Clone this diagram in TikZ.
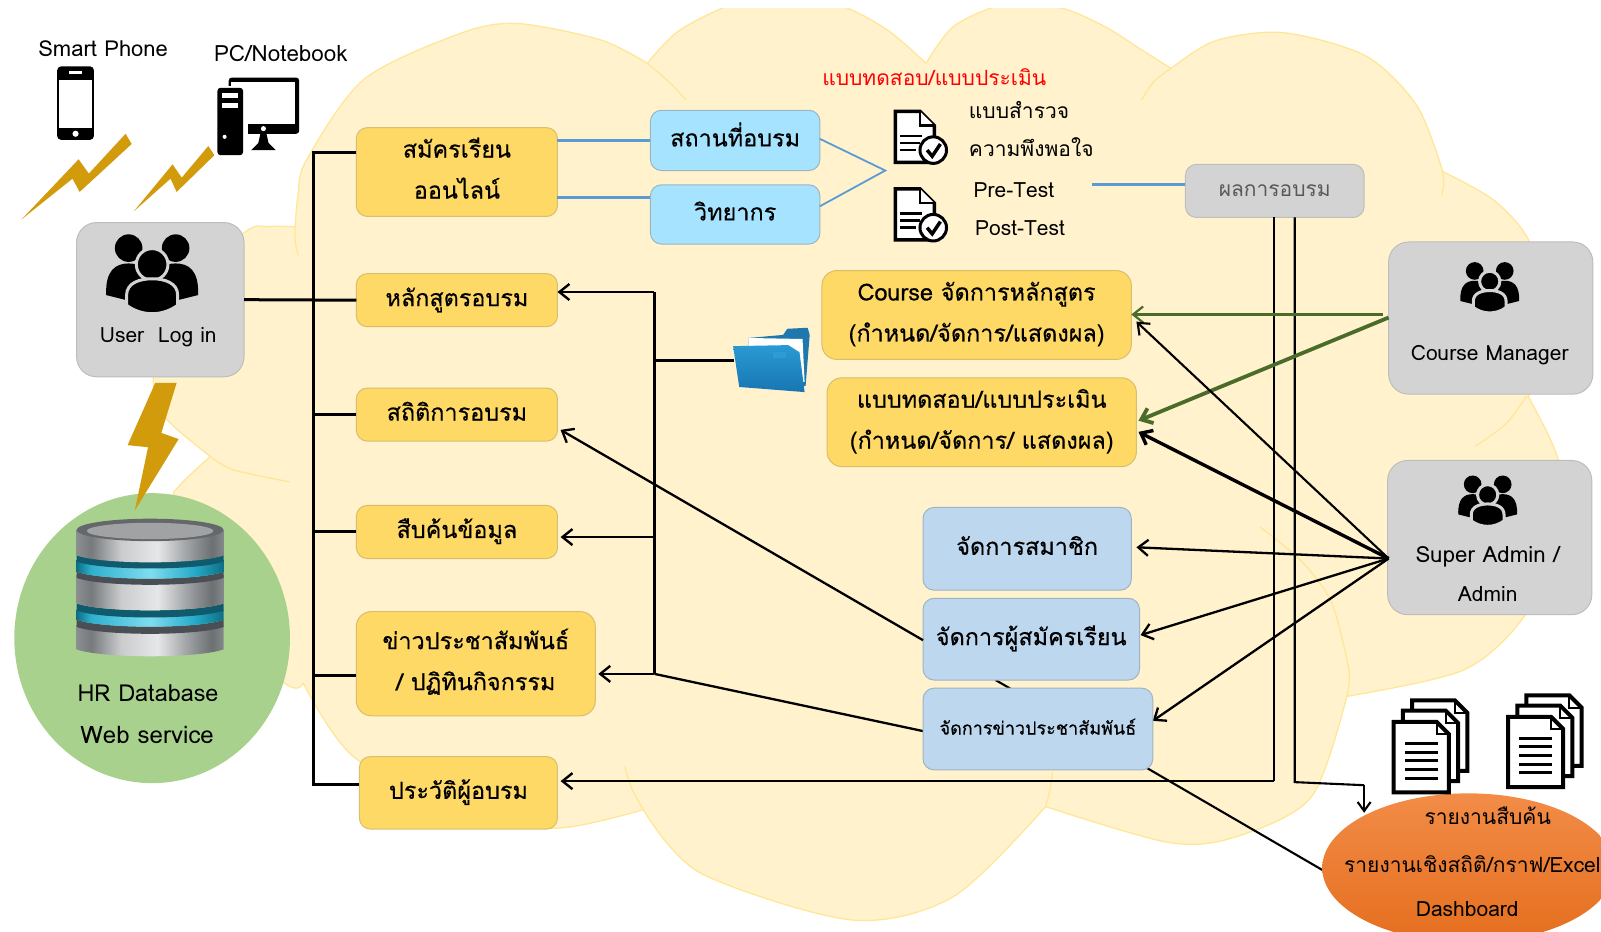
\documentclass[tikz,border=0pt]{standalone}
\usepackage{fontspec}
\setmainfont[Script=Thai]{Loma}
\newfontfamily\boxfont[Script=Thai,FakeBold=0.45]{Loma}
\usetikzlibrary{arrows.meta,calc,shapes.geometric}
\definecolor{cloudfill}{HTML}{FFF2CC}
\definecolor{cloudline}{HTML}{FFE699}
\definecolor{bolt}{HTML}{D29B0C}
\definecolor{yellowbox}{HTML}{FFD966}
\definecolor{yellowedge}{HTML}{D9BE6C}
\definecolor{skybox}{HTML}{A6E3FF}
\definecolor{steelbox}{HTML}{BDD7EE}
\definecolor{edgeblue}{HTML}{9DB4C4}
\definecolor{greybox}{HTML}{D3D3D3}
\definecolor{greyedge}{HTML}{BDBDBD}
\definecolor{bluelink}{HTML}{5B9BD5}
\definecolor{greenlink}{HTML}{4A6B2A}
\definecolor{dbgreen}{HTML}{A9D18E}
\definecolor{sa}{HTML}{8B8E91}\definecolor{sb}{HTML}{777A7D}\definecolor{sc}{HTML}{C9CBCC}
\definecolor{sd}{HTML}{E6E7E8}\definecolor{se}{HTML}{A0A3A5}\definecolor{sf}{HTML}{6D7073}\definecolor{sg}{HTML}{85888A}
\definecolor{ca}{HTML}{0E6F85}\definecolor{cb}{HTML}{2FB0CF}\definecolor{cc}{HTML}{7FDCF0}\definecolor{cd}{HTML}{27ABCB}\definecolor{ce}{HTML}{0E6F85}
\definecolor{tealdark}{HTML}{0F5A6C}
\definecolor{ringdark}{HTML}{4A4F55}
\definecolor{foldback}{HTML}{1E78AE}
\definecolor{foldtop}{HTML}{2A9AD4}
\definecolor{foldbot}{HTML}{1776B2}
\definecolor{orangetop}{HTML}{F28C47}
\definecolor{orangebot}{HTML}{E56E1E}
\pgfdeclarehorizontalshading{silverh}{100bp}{color(0bp)=(sa); color(25bp)=(sa); color(30bp)=(sb); color(40bp)=(sc); color(52.5bp)=(sd); color(62.5bp)=(se); color(71bp)=(sf); color(75bp)=(sg); color(100bp)=(sg)}
\pgfdeclarehorizontalshading{cyanh}{100bp}{color(0bp)=(ca); color(25bp)=(ca); color(30bp)=(cb); color(50bp)=(cc); color(65bp)=(cd); color(75bp)=(ce); color(100bp)=(ce)}
\newcommand{\bnode}[7]{\node[#1,minimum width={(#5-#3)*1.021pt},minimum height={(#6-#4)*1.021pt}] (#2) at ({(#3+#5)/2},{(#4+#6)/2}) {#7};}
\newcommand{\cylpart}[3]{\path[#3] (75,#1) .. controls (100,#1+9) and (194,#1+9) .. (219,#1) -- (219,#2) .. controls (194,#2+9) and (100,#2+9) .. (75,#2) -- cycle;}
\newcommand{\fx}{\rule[-12pt]{0pt}{36pt}}
\tikzset{
  base/.style={draw,rounded corners=11pt,inner sep=0pt,outer sep=0pt,align=center,text=black,line width=1pt},
  ybox/.style={base,fill=yellowbox,draw=yellowedge,font=\boxfont\fontsize{23.4}{41}\selectfont},
  sbox/.style={base,fill=skybox,draw=edgeblue,font=\boxfont\fontsize{23.4}{41}\selectfont},
  bbox/.style={base,fill=steelbox,draw=edgeblue,font=\boxfont\fontsize{23.4}{41}\selectfont},
  gbox/.style={base,fill=greybox,draw=greyedge,rounded corners=20pt},
  txt/.style={inner sep=0pt,outer sep=0pt,align=center,text=black,font=\fontsize{21}{37}\selectfont},
  bus/.style={line width=3pt,black},
  arr/.style={-{Straight Barb[length=10pt,width=16pt]}},
  thin link/.style={line width=2.1pt,black},
  blue thick/.style={line width=3pt,bluelink},
  cloudedge/.style={draw=cloudline,line width=1.3pt},
  people/.pic={
    \fill[black] (-23,-26) circle (13.5); \fill[black] (23,-26) circle (13.5);
    \fill[black] (-45,20) .. controls (-46,-4) and (-36,-11) .. (-23,-11) .. controls (-10,-11) and (-2,-4) .. (-2,20) -- (-25,25) -- cycle;
    \fill[black] (45,20) .. controls (46,-4) and (36,-11) .. (23,-11) .. controls (10,-11) and (2,-4) .. (2,20) -- (25,25) -- cycle;
    \path[fill=black,draw=greybox,line width=3pt] (0,-10) circle (15.5);
    \path[fill=black,draw=greybox,line width=3pt] (-25,30) -- (-25,20) .. controls (-25,8) and (-12,4) .. (0,4) .. controls (12,4) and (25,8) .. (25,20) -- (25,30) .. controls (10,41) and (-10,41) .. (-25,30) -- cycle;
  },
  docheck/.pic={
    \draw[black,line width=3.5pt,fill=white,line join=miter] (0,0) -- (24,0) -- (38,14) -- (38,50) -- (0,50) -- cycle;
    \draw[black,line width=2.5pt,fill=white] (24,0) -- (24,14) -- (38,14);
    \draw[black,line width=2.5pt] (4,24) -- (26,24) (4,31) -- (24,31) (4,38) -- (20,38);
    \draw[black,line width=3pt,fill=white] (37,38) circle (13);
    \draw[black,line width=3.5pt] (31,38) -- (36,44) -- (44,32);
  },
  pagesheet/.pic={
    \draw[black,line width=4pt,fill=white] (0,0) -- (42,0) -- (54,12) -- (54,69) -- (0,69) -- cycle;
    \draw[black,line width=2pt] (42,0) -- (42,12) -- (54,12);
  },
  docstack/.pic={
    \pic at (18,0) {pagesheet};
    \pic at (9,10) {pagesheet};
    \pic at (0,21) {pagesheet};
    \draw[black,line width=3pt] (11,42) -- (43,42) (11,50.5) -- (43,50.5) (11,59) -- (43,59) (11,67.5) -- (43,67.5) (11,76) -- (43,76);
  }
}
\begin{document}
\begin{tikzpicture}[x=1.021pt,y=-1.021pt]
\useasboundingbox (0,0) rectangle (1568,912);
% ---------- cloud
\begin{scope}
\clip (0,8) rectangle (1568,912);
\path[fill=cloudfill,cloudedge,line join=round]
  plot[smooth] coordinates {(289,222) (292,190) (300,157) (356,78) (450,33) (506,23) (588,39) (634,62)}
  -- plot[smooth] coordinates {(634,62) (665,30) (720,3) (770,-4) (825,6) (870,30) (907,62)}
  -- plot[smooth] coordinates {(907,62) (935,25) (988,3) (1040,8) (1082,26) (1120,50) (1147,67)}
  -- plot[smooth] coordinates {(1147,67) (1190,40) (1257,32) (1338,55) (1388,104) (1413,168)}
  -- plot[smooth] coordinates {(1413,168) (1463,196) (1497,235) (1515,300) (1497,389)}
  -- plot[smooth] coordinates {(1497,389) (1526,450) (1530,520) (1494,602) (1434,656) (1319,682)}
  -- plot[smooth] coordinates {(1319,682) (1284,781) (1209,820) (1144,825) (1024,790)}
  -- plot[smooth] coordinates {(1024,790) (934,878) (834,901) (686,855) (630,793)}
  -- plot[smooth] coordinates {(630,793) (547,811) (450,800) (345,740) (297,669)}
  -- plot[smooth] coordinates {(297,669) (280,670) (200,600) (170,482)}
  -- plot[smooth] coordinates {(170,482) (184,467) (206,447)}
  -- plot[smooth] coordinates {(206,447) (161,408) (150,369) (160,300) (239,228) (262,222) (289,222)}
  -- cycle;
\end{scope}
\draw[cloudedge] plot[smooth] coordinates {(289,222) (289,236) (292,250)};
\draw[cloudedge] plot[smooth] coordinates {(206,447) (228,460) (284,472)};
\draw[cloudedge] plot[smooth] coordinates {(634,62) (655,80) (672,98)};
\draw[cloudedge] plot[smooth] coordinates {(1118,98) (1130,80) (1147,67)};
\draw[cloudedge] plot[smooth] coordinates {(1413,168) (1414,180) (1412,191)};
\draw[cloudedge] plot[smooth] coordinates {(1445,437) (1475,415) (1495,388)};
\draw[cloudedge] plot[smooth] coordinates {(1234,516) (1275,550) (1304,590) (1321,656) (1319,682)};
\draw[cloudedge] plot[smooth] coordinates {(1031,756) (1028,775) (1024,790)};
\draw[cloudedge] plot[smooth] coordinates {(612,751) (619,773) (630,793)};
% ---------- database ellipse
\node[ellipse,fill=dbgreen,draw=none,inner sep=0pt,minimum width={270*1.021pt},minimum height={284*1.021pt}] (hr) at (149,625) {};
% ---------- bolts
\fill[bolt] (21,215) -- (77,156) -- (87,170) -- (123,131) -- (129,141) -- (78,188) -- (71,175) -- cycle;
\fill[bolt] (131,207) -- (169,161) -- (178,174) -- (204,143) -- (210,152) -- (173,188) -- (167,175) -- cycle;
\fill[bolt] (152,375) -- (173,375) -- (158,424) -- (175,430) -- (132,500) -- (145,438) -- (125,436) -- cycle;
% ---------- boxes
\bnode{ybox}{reg}{349}{125}{546}{212}{\fx สมัครเรียน\\\fx ออนไลน์}
\bnode{ybox}{course}{349}{268}{546}{320}{\fx หลักสูตรอบรม}
\bnode{ybox}{stat}{349}{380}{546}{432}{\fx สถิติการอบรม}
\bnode{ybox}{search}{349}{495}{546}{547}{\fx สืบค้นข้อมูล}
\bnode{ybox,rounded corners=15pt}{news}{349}{599}{583}{701}{\fx ข่าวประชาสัมพันธ์\\\fx / ปฏิทินกิจกรรม}
\bnode{ybox}{hist}{352}{741}{546}{812}{\fx ประวัติผู้อบรม}
\bnode{sbox}{place}{637}{108}{803}{167}{\fx สถานที่อบรม}
\bnode{sbox}{lect}{637}{181}{803}{239}{\fx วิทยากร}
\bnode{base,fill=greybox,draw=greyedge,text={rgb,255:red,89;green,89;blue,89},font=\fontsize{21}{37}\selectfont}{result}{1161}{161}{1336}{213}{ผลการอบรม}
\bnode{ybox,rounded corners=15pt}{mcourse}{805}{265}{1108}{352}{\fx Course จัดการหลักสูตร\\\fx (กำหนด/จัดการ/แสดงผล)}
\bnode{ybox,rounded corners=15pt}{mtest}{810}{370}{1113}{457}{\fx แบบทดสอบ/แบบประเมิน\\\fx (กำหนด/จัดการ/ แสดงผล)}
\coordinate (bt) at (307,149);
\coordinate (bb) at (307,768);
\coordinate (bn) at (307,662);
\coordinate (ct) at (641,286);
\coordinate (cb) at (641,660);
\coordinate (cf) at (641,353);
\coordinate (cs) at (641,526);
\coordinate (fold) at (719,353);
\coordinate (fork) at (867,167);
\coordinate (pre) at (1069,181);
\coordinate (r1) at (1248,765);
\coordinate (r2) at (1268,766);
\coordinate (r3) at (1336,769);
\coordinate (s) at (1360,547);
\coordinate (rep) at (1336,796);
\coordinate (newsin) at (904,716);
\coordinate (orgw) at (1295,852);
\bnode{base,fill=greybox,draw=greyedge,rounded corners=20pt}{user}{75}{218}{239}{369}{}
\bnode{gbox}{cm}{1360}{237}{1560}{386}{}
\bnode{gbox}{sa}{1359}{451}{1559}{602}{}
% ---------- connectors behind the lower boxes
\draw[thin link] (orgw) -- (975,666);
\draw[bus] (reg.west |- bt) -- (bt) -- (bb) -- (hist.west |- bb);
\draw[bus] (user.east) -- (course.west);
\draw[bus] (stat.west) -- (stat.west -| bt);
\draw[bus] (search.west) -- (search.west -| bt);
\draw[bus] (bn) -- (bn -| news.west);
\draw[line width=3pt] (ct) -- (cb);
\draw[line width=3pt] (cf) -- (fold);
\draw[line width=2.4pt,arr] (ct) -- (ct -| course.east);
\draw[line width=2.4pt,arr] (cs) -- ($(cs -| search.east)+(3,0)$);
\draw[line width=2.4pt,arr] (cb) -- ($(cb -| news.east)+(3,0)$);
\draw[line width=2.3pt] (cb) -- (newsin);
\draw[blue thick] (reg.east |- 0,138) -- (place.west |- 0,138);
\draw[blue thick] (reg.east |- 0,193) -- (lect.west |- 0,193);
\draw[bluelink,line width=1.8pt] (place.east |- 0,136) -- (fork) -- (lect.east |- 0,202);
\draw[blue thick] (pre) -- (pre -| result.west);
\draw[thin link] (1248,213) -- (r1);
\draw[line width=2.4pt,arr] (r1) -- ($(r1 -| hist.east)+(3,0)$);
\draw[thin link] (1268,213) -- (r2) -- (r3);
\draw[thin link,-{Straight Barb[length=9pt,width=13pt]}] (r3) -- (rep);
\draw[greenlink,line width=2.2pt,arr] (cm.west |- 0,308) ++(-6,0) -- (mcourse.east |- 0,308);
\draw[greenlink,line width=3.8pt,arr] (cm.west |- 0,311) -- ($(mtest.east |- 0,412)+(2,0)$);
\draw[thin link,arr] (s) -- (1113,315);
\draw[line width=3.4pt,arr] (s) -- (1115,423);
\draw[line width=2.3pt,arr] (s) -- (1113,536);
\draw[line width=2.3pt,arr] (s) -- (1117,622);
\draw[line width=2.3pt,arr] (s) -- (1129,706);
\bnode{bbox}{mmem}{904}{497}{1108}{578}{\fx จัดการสมาชิก}
\bnode{bbox}{mapp}{904}{586}{1116}{666}{\fx จัดการผู้สมัครเรียน}
\bnode{bbox,font=\boxfont\fontsize{18}{30}\selectfont}{mnews}{904}{674}{1129}{754}{\rule[-9pt]{0pt}{29pt}จัดการข่าวประชาสัมพันธ์}
\draw[line width=2.3pt,arr] (mapp.west |- 0,627) -- ($(stat.east |- 0,421)+(3,0)$);
% ---------- report ellipse
\shade[top color=orangetop,bottom color=orangebot] (1438,850) ellipse (143 and 73);
\node[ellipse,draw=none,fill=none,inner sep=0pt,minimum width={286*1.021pt},minimum height={146*1.021pt}] (orange) at (1438,850) {};
% ---------- texts
\node[txt,font=\fontsize{22}{37}\selectfont] (t1) at (101,48) {Smart Phone};
\node[txt,font=\fontsize{22.4}{37}\selectfont] (t2) at (275,52) {PC/Notebook};
\node[txt] (t3) at (155,330) {User\hspace{14pt}Log in};
\node[txt,text=red] (t4) at (915,76) {แบบทดสอบ/แบบประเมิน};
\node[txt] (t5) at (998,108) {แบบสำรวจ};
\node[txt] (t6) at (1010,144) {ความพึงพอใจ};
\node[txt] (t7) at (993,186) {Pre-Test};
\node[txt] (t8) at (999,223) {Post-Test};
\node[txt] (t9) at (1459,348) {Course Manager};
\node[txt,font=\fontsize{22.3}{37}\selectfont] (t10) at (1457,545) {Super Admin /};
\node[txt] (t11) at (1457,582) {Admin};
\node[txt,font=\fontsize{23.4}{37}\selectfont] (t12) at (145,679) {HR Database};
\node[txt,font=\fontsize{24}{37}\selectfont] (t13) at (144,720) {Web service};
\node[txt] (t14) at (1457,799) {รายงานสืบค้น};
\node[txt] (t15) at (1442,846) {รายงานเชิงสถิติ/กราฟ/Excel};
\node[txt] (t16) at (1437,890) {Dashboard};
% ---------- icons
\pic at (149,269) {people};
\pic[scale=.64] at (1459,282) {people};
\pic[scale=.64] at (1457,491) {people};
\pic at (877,109) {docheck};
\pic at (877,185) {docheck};
\pic at (1365,686) {docstack};
\pic at (1477,681) {docstack};
% phone
\fill[black,rounded corners=4pt] (56,65) rectangle (92,137);
\fill[white] (58,78) rectangle (90,125);
\fill[white] (74,131) circle (3);
\fill[white] (68,70) rectangle (80,72);
% computer
\fill[black,rounded corners=3pt] (224,76) rectangle (293,131);
\fill[white] (226,80) rectangle (289,121);
\fill[white] (258,126) circle (2.5);
\fill[black] (255,131) -- (261,131) -- (263,140) -- (270,147) -- (246,147) -- (253,140) -- cycle;
\fill[white] (210,84) rectangle (243,155);
\fill[black,rounded corners=3pt] (213,86) rectangle (238,152);
\fill[white] (217,91) rectangle (233,96);
\fill[white] (217,101) rectangle (233,106);
\fill[white] (220,134) circle (2);
% folder
\fill[foldback] (733,331) -- (767,328) -- (771,322) -- (791,321) -- (793,328) -- (789,378) -- (733,372) -- cycle;
\fill[white] (733,331) -- (786,332) -- (788,374) -- (733,368) -- cycle;
\shade[top color=foldtop,bottom color=foldbot] (718,339) -- (772,338) -- (783,345) -- (788,384) -- (724,379) -- cycle;
\fill[cyan!45!foldtop] (757,345) rectangle (770,351);
% database
\cylpart{612}{636}{shade,shading=silverh}
\cylpart{607}{614}{fill=ringdark}
\cylpart{597}{607}{shade,shading=cyanh}
\cylpart{591}{598}{fill=tealdark}
\cylpart{563}{591}{shade,shading=silverh}
\cylpart{560}{566}{fill=ringdark}
\cylpart{548}{560}{shade,shading=cyanh}
\cylpart{543}{550}{fill=tealdark}
\cylpart{519}{544}{shade,shading=silverh}
\path[fill=sb!85!black] (147,519) ellipse (72 and 11);
\path[fill=sb!70!white] (147,520) ellipse (62 and 8);
\end{tikzpicture}
\end{document}
